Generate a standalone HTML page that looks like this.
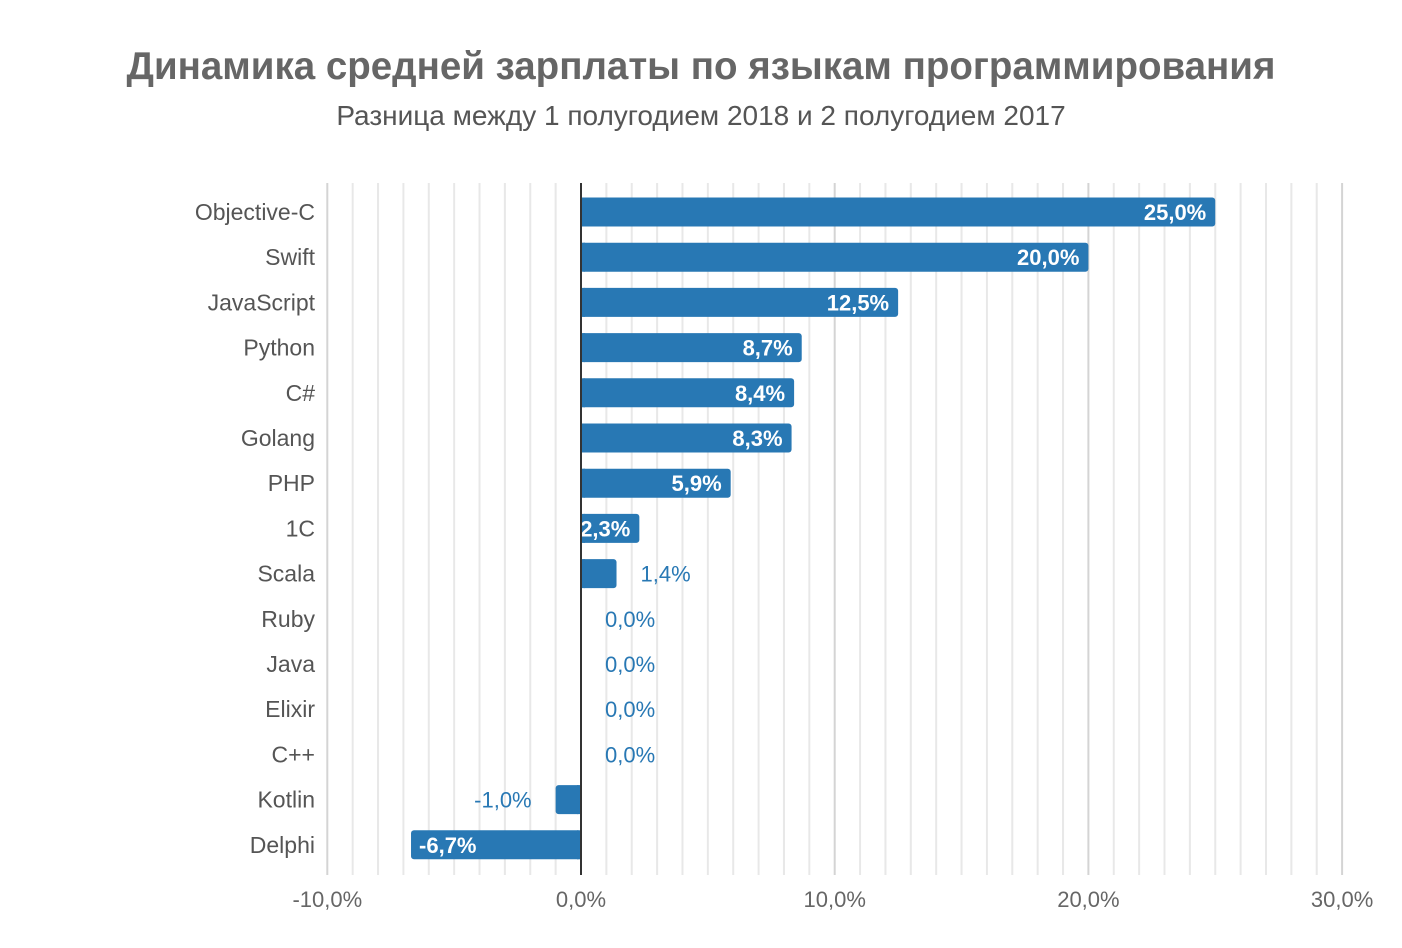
<!DOCTYPE html>
<html><head><meta charset="utf-8"><style>
body{margin:0;background:#fff;width:1402px;height:948px;overflow:hidden}
svg{display:block;font-family:"Liberation Sans","DejaVu Sans",sans-serif}
</style></head><body>
<svg width="1402" height="948" viewBox="0 0 1402 948">
<text x="701" y="79" text-anchor="middle" font-size="38.5" font-weight="bold" fill="#666">Динамика средней зарплаты по языкам программирования</text>
<text x="701" y="125" text-anchor="middle" font-size="28" fill="#555">Разница между 1 полугодием 2018 и 2 полугодием 2017</text>
<g id="grid"></g>
<g id="bars"></g>
<script>
var ns="http://www.w3.org/2000/svg";
function el(p,t,a,txt){var e=document.createElementNS(ns,t);for(var k in a)e.setAttribute(k,a[k]);if(txt!=null)e.textContent=txt;p.appendChild(e);return e;}
var X=function(v){return 581+v*25.37;};
var g=document.getElementById('grid'),b=document.getElementById('bars');
for(var i=-10;i<=30;i++){ if(i==0)continue; el(g,'line',{x1:X(i),x2:X(i),y1:183,y2:875,stroke:(i%10==0)?'#d4d4d4':'#e8e8e8','stroke-width':2});}
[[-10,'-10,0%'],[0,'0,0%'],[10,'10,0%'],[20,'20,0%'],[30,'30,0%']].forEach(function(t){el(g,'text',{x:X(t[0]),y:907,'text-anchor':'middle','font-size':22,fill:'#666'},t[1]);});
var d=[['Objective-C',25,'25,0%'],['Swift',20,'20,0%'],['JavaScript',12.5,'12,5%'],['Python',8.7,'8,7%'],['C#',8.4,'8,4%'],['Golang',8.3,'8,3%'],['PHP',5.9,'5,9%'],['1C',2.3,'2,3%'],['Scala',1.4,'1,4%'],['Ruby',0,'0,0%'],['Java',0,'0,0%'],['Elixir',0,'0,0%'],['C++',0,'0,0%'],['Kotlin',-1,'-1,0%'],['Delphi',-6.7,'-6,7%']];
d.forEach(function(r,i){
 var cy=212+i*45.2;
 el(b,'text',{x:315,y:cy+8,'text-anchor':'end','font-size':23,fill:'#555'},r[0]);
 var v=r[1],x0=X(0),x1=X(v);
 if(v!=0){
  var l=Math.min(x0,x1),w=Math.abs(x1-x0);
  el(b,'rect',{x:l,y:cy-14.5,width:w,height:29,rx:3,fill:'#2878b4'});
  el(b,'rect',{x:v>0?l:l+w-4,y:cy-14.5,width:4,height:29,fill:'#2878b4'});
 }
 if(Math.abs(v)>=2){
  if(v>0) el(b,'text',{x:x1-9,y:cy+8,'text-anchor':'end','font-size':22,'font-weight':'bold',fill:'#fff'},r[2]);
  else el(b,'text',{x:x1+8,y:cy+8,'font-size':22,'font-weight':'bold',fill:'#fff'},r[2]);
 } else {
  if(v>0) el(b,'text',{x:x1+24,y:cy+8,'font-size':22,fill:'#2878b4'},r[2]);
  else if(v<0) el(b,'text',{x:x1-24,y:cy+8,'text-anchor':'end','font-size':22,fill:'#2878b4'},r[2]);
  else el(b,'text',{x:x0+24,y:cy+8,'font-size':22,fill:'#2878b4'},r[2]);
 }
});
el(b,'line',{x1:581,x2:581,y1:183,y2:875,stroke:'#333','stroke-width':2});
</script>
</svg>
</body></html>
